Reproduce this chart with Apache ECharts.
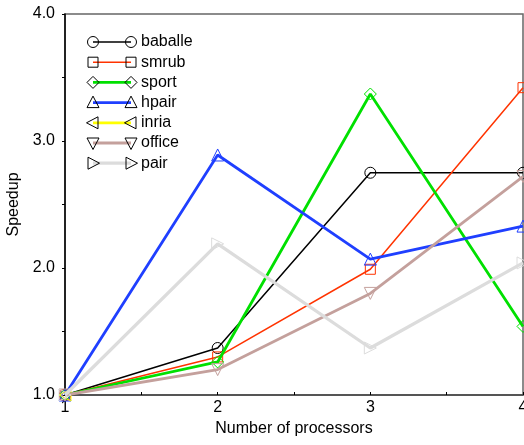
<!DOCTYPE html>
<html><head><meta charset="utf-8">
<script src="https://cdn.jsdelivr.net/npm/echarts@6/dist/echarts.min.js"></script>
<style>html,body{margin:0;padding:0;background:#fff}#c{width:524px;height:445px}</style>
</head><body><div id="c"></div>
<script>
const processors = [1, 2, 3, 4];
const yTicks = [1.0, 2.0, 3.0, 4.0];
const names = ['baballe', 'smrub', 'sport', 'hpair', 'inria', 'office', 'pair'];
const baballe = [1.00, 1.37, 2.75, 2.75];
const smrub   = [1.00, 1.30, 1.99, 3.42];
const sport   = [1.00, 1.26, 3.37, 1.54];
const hpair   = [1.00, 2.89, 2.07, 2.33];
const inria   = [1.00, null, null, null];
const office  = [1.00, 1.20, 1.80, 2.72];
const pair    = [1.00, 2.19, 1.37, 2.04];

const values = [baballe, smrub, sport, hpair, inria, office, pair];
const colors = ['#000000', '#ff3300', '#00e000', '#1f3fff', '#ffff00', '#c4a09c', '#dcdcdc'];
const widths = [1.5, 1.5, 2.8, 2.8, 2.8, 2.8, 3.2];
const symbols = ['circle', 'rect', 'diamond', 'up', 'left', 'down', 'right'];

const FONT = '"Liberation Sans", Arial, Helvetica, sans-serif';

function echSymbol(s) {
  if (s === 'up' || s === 'left' || s === 'down' || s === 'right') return 'triangle';
  return s;
}
function echRotate(s) {
  return {up: 0, left: 90, down: 180, right: -90}[s] || 0;
}

const series = names.map((n, i) => ({
  name: n,
  type: 'line',
  data: processors.map((x, k) => values[i][k] == null ? null : [x, values[i][k]]).filter(d => d),
  symbol: echSymbol(symbols[i]),
  symbolRotate: echRotate(symbols[i]),
  symbolSize: symbols[i] === 'circle' ? 11 : (symbols[i] === 'rect' ? 10 : 12),
  showAllSymbol: true,
  clip: false,
  lineStyle: {color: colors[i], width: widths[i]},
  itemStyle: {color: 'rgba(0,0,0,0)', borderColor: colors[i], borderWidth: 1},
  emphasis: {disabled: true},
  animation: false,
  z: 2 + i
}));

// legend built with graphic elements
function symbolShape(s, cx, cy) {
  const st = {fill: 'none', stroke: '#000', lineWidth: 1};
  const r = 5.5;
  if (s === 'circle') return {type: 'circle', shape: {cx, cy, r}, style: st, z: 101};
  if (s === 'rect') return {type: 'rect', shape: {x: cx - 5, y: cy - 5, width: 10, height: 10}, style: st, z: 101};
  let pts;
  if (s === 'diamond') pts = [[cx, cy - 6], [cx + 6, cy], [cx, cy + 6], [cx - 6, cy]];
  if (s === 'up') pts = [[cx, cy - 6.5], [cx + 6, cy + 5], [cx - 6, cy + 5]];
  if (s === 'down') pts = [[cx, cy + 6.5], [cx + 6, cy - 5], [cx - 6, cy - 5]];
  if (s === 'left') pts = [[cx - 6.5, cy], [cx + 5, cy - 6], [cx + 5, cy + 6]];
  if (s === 'right') pts = [[cx + 6.5, cy], [cx - 5, cy - 6], [cx - 5, cy + 6]];
  return {type: 'polygon', shape: {points: pts}, style: st, z: 101};
}
const graphics = [];
names.forEach((n, i) => {
  const cy = 42 + i * 20.2;
  const x0 = 93, x1 = 131;
  graphics.push({type: 'line', shape: {x1: x0, y1: cy, x2: x1, y2: cy}, style: {stroke: colors[i], lineWidth: widths[i]}, z: 100});
  graphics.push(symbolShape(symbols[i], x0, cy));
  graphics.push(symbolShape(symbols[i], x1, cy));
  graphics.push({type: 'text', x: 141, y: cy, style: {text: n, font: '16px ' + FONT, fill: '#000', verticalAlign: 'middle', textAlign: 'left'}, z: 101});
});

const chart = echarts.init(document.getElementById('c'), null, {renderer: 'canvas'});
chart.setOption({
  animation: false,
  backgroundColor: '#fff',
  grid: {left: 65, right: 1, top: 14, bottom: 50, containLabel: false, outerBoundsMode: 'none',
    show: true, borderColor: '#666', borderWidth: 1.5, backgroundColor: 'transparent'},
  xAxis: {
    type: 'value', min: 1, max: 4, interval: 1,
    name: 'Number of processors', nameLocation: 'middle', nameGap: 26,
    nameTextStyle: {fontSize: 16, color: '#000', fontFamily: FONT},
    axisLine: {show: true, lineStyle: {color: '#444', width: 1.5}},
    axisTick: {show: true, inside: true, length: 3, lineStyle: {color: '#000'}},
    minorTick: {show: true, splitNumber: 2, length: 3, lineStyle: {color: '#000'}},
    splitLine: {show: false},
    axisLabel: {fontSize: 16, color: '#000', fontFamily: FONT, margin: 5, hideOverlap: false,
      showMinLabel: true, showMaxLabel: true,
      formatter: v => processors.includes(v) ? String(v) : ''}
  },
  yAxis: {
    type: 'value', min: 1, max: 4, interval: 1,
    name: 'Speedup', nameLocation: 'middle', nameGap: 41,
    nameTextStyle: {fontSize: 16, color: '#000', fontFamily: FONT},
    axisLine: {show: true, lineStyle: {color: '#000', width: 1.5}},
    axisTick: {show: true, inside: false, length: 3, lineStyle: {color: '#000'}},
    minorTick: {show: true, splitNumber: 2, length: 3, lineStyle: {color: '#000'}},
    splitLine: {show: false},
    axisLabel: {fontSize: 16, color: '#000', fontFamily: FONT, margin: 10,
      formatter: v => yTicks.includes(v) ? v.toFixed(1) : ''}
  },
  series: series,
  graphic: graphics
});
</script></body></html>
